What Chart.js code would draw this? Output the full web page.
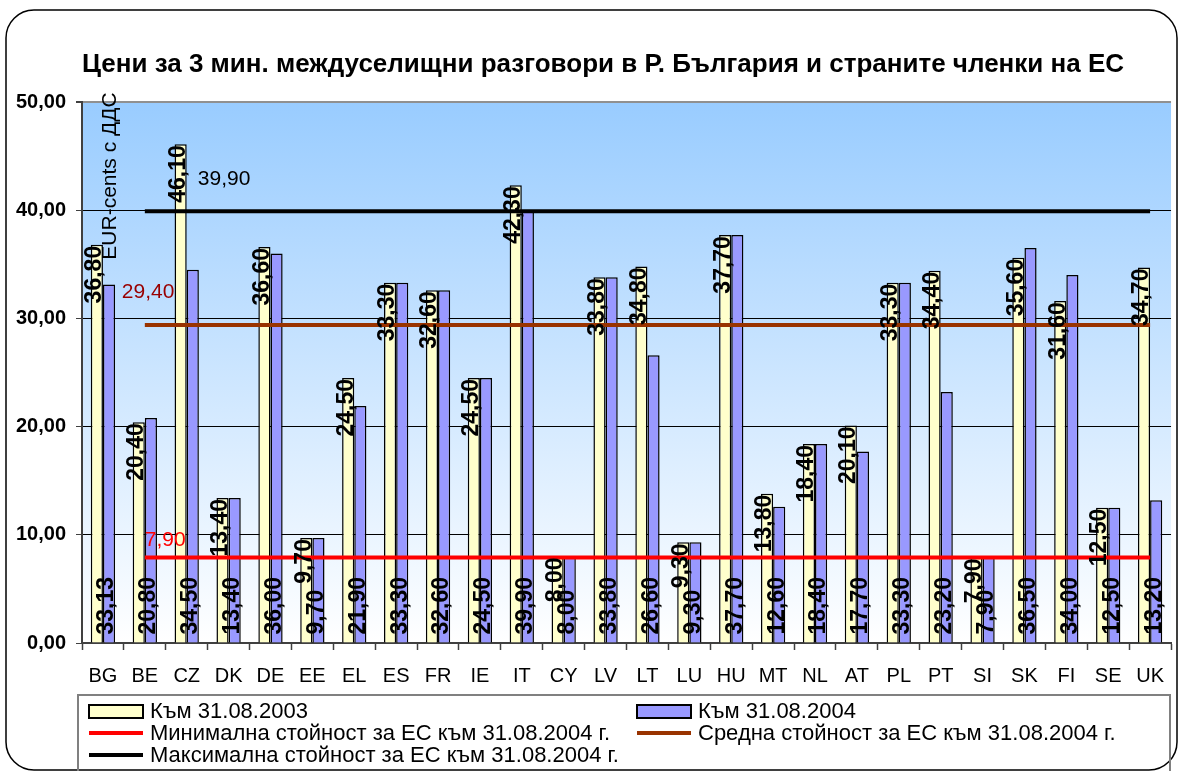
<html>
<head>
  <meta charset="utf-8">
  <style>
    body { margin: 0; background: #fff; overflow: hidden; }
    #wrap { position: relative; width: 1178px; height: 771px; }
  </style>
</head>
<body>
  <div id="wrap">
    <canvas id="priceChart" width="1178" height="771"></canvas>
  </div>

  <script src="https://cdn.jsdelivr.net/npm/chart.js"></script>
  <script>
    // данни от графиката
    const countries = ['BG', 'BE', 'CZ', 'DK', 'DE', 'EE', 'EL', 'ES', 'FR', 'IE', 'IT', 'CY', 'LV',
      'LT', 'LU', 'HU', 'MT', 'NL', 'AT', 'PL', 'PT', 'SI', 'SK', 'FI', 'SE', 'UK'];
    const prices2003 = [36.80, 20.40, 46.10, 13.40, 36.60, 9.70, 24.50, 33.30, 32.60, 24.50, 42.30, 8.00, 33.80,
      34.80, 9.30, 37.70, 13.80, 18.40, 20.10, 33.30, 34.40, 7.90, 35.60, 31.60, 12.50, 34.70];
    const prices2004 = [33.13, 20.80, 34.50, 13.40, 36.00, 9.70, 21.90, 33.30, 32.60, 24.50, 39.90, 8.00, 33.80,
      26.60, 9.30, 37.70, 12.60, 18.40, 17.70, 33.30, 23.20, 7.90, 36.50, 34.00, 12.50, 13.20];
    const minEU2004 = 7.90;
    const avgEU2004 = 29.40;
    const maxEU2004 = 39.90;
    const seriesNames = [
      'Към 31.08.2003',
      'Към 31.08.2004',
      'Минимална стойност за ЕС към 31.08.2004 г.',
      'Средна стойност за ЕС към 31.08.2004 г.',
      'Максимална стойност за ЕС към 31.08.2004 г.'
    ];
    const chartTitle = 'Цени за 3 мин. междуселищни разговори в Р. България и страните членки на ЕС';
    const yTitle = 'EUR-cents с ДДС';

    const fmt = v => v.toFixed(2).replace('.', ',');
    // линиите започват от втората държава (BE)
    const refLine = v => countries.map((c, i) => i === 0 ? null : v);

    const FONT = '"Liberation Sans", Arial, sans-serif';

    // рамка, заглавие и фон на областта с графиката
    const backgroundPlugin = {
      id: 'background',
      beforeDraw(chart) {
        const { ctx, chartArea: a } = chart;
        ctx.save();
        ctx.fillStyle = '#fff';
        ctx.fillRect(0, 0, chart.width, chart.height);
        ctx.beginPath();
        ctx.roundRect(6, 10, 1171, 760, 28);
        ctx.strokeStyle = '#000';
        ctx.lineWidth = 1.5;
        ctx.stroke();
        const g = ctx.createLinearGradient(0, a.top, 0, a.bottom);
        g.addColorStop(0, '#99ccff');
        g.addColorStop(1, '#ffffff');
        ctx.fillStyle = g;
        ctx.fillRect(a.left, a.top, a.right - a.left, a.bottom - a.top);
        ctx.font = 'bold 26px ' + FONT;
        ctx.fillStyle = '#000';
        ctx.textAlign = 'center';
        ctx.textBaseline = 'middle';
        ctx.fillText(chartTitle, 603, 65);
        ctx.restore();
      }
    };

    // вертикални надписи със стойностите
    const barLabelsPlugin = {
      id: 'barLabels',
      afterDatasetsDraw(chart) {
        const { ctx } = chart;
        ctx.save();
        ctx.font = 'bold 23px ' + FONT;
        ctx.fillStyle = '#000';
        ctx.textBaseline = 'middle';
        [0, 1].forEach(di => {
          const meta = chart.getDatasetMeta(di);
          const data = chart.data.datasets[di].data;
          meta.data.forEach((bar, i) => {
            ctx.save();
            if (di === 0) {
              ctx.translate(bar.x - 2, bar.y + 1);
              ctx.rotate(-Math.PI / 2);
              ctx.textAlign = 'right';
            } else {
              ctx.translate(bar.x - 2, bar.base - 8);
              ctx.rotate(-Math.PI / 2);
              ctx.textAlign = 'left';
            }
            ctx.fillText(fmt(data[i]), 0, 0);
            ctx.restore();
          });
        });
        ctx.restore();
      }
    };

    // надписи на хоризонталните линии
    const refLabelsPlugin = {
      id: 'refLabels',
      afterDatasetsDraw(chart) {
        const { ctx, scales: { x, y } } = chart;
        const x0 = x.getPixelForValue(1);
        ctx.save();
        ctx.font = '21px ' + FONT;
        ctx.textBaseline = 'middle';
        ctx.textAlign = 'left';
        ctx.fillStyle = '#000';
        ctx.fillText(fmt(maxEU2004), x0 + 53, y.getPixelForValue(maxEU2004) - 32);
        ctx.fillStyle = '#990000';
        ctx.fillText(fmt(avgEU2004), x0 - 23, y.getPixelForValue(avgEU2004) - 33);
        ctx.fillStyle = '#ff0000';
        ctx.fillText(fmt(minEU2004), x0, y.getPixelForValue(minEU2004) - 17);
        ctx.restore();
      }
    };

    // заглавие на оста и легенда
    const extrasPlugin = {
      id: 'extras',
      afterDraw(chart) {
        const { ctx, chartArea: a } = chart;
        ctx.save();
        ctx.font = '21px ' + FONT;
        ctx.fillStyle = '#000';
        ctx.textAlign = 'center';
        ctx.textBaseline = 'middle';
        ctx.translate(a.left + 28, a.top + 74);
        ctx.rotate(-Math.PI / 2);
        ctx.fillText(yTitle, 0, 0);
        ctx.restore();

        ctx.save();
        ctx.strokeStyle = '#808080';
        ctx.lineWidth = 2;
        ctx.strokeRect(78, 695, 1092, 100);
        const cols = [89, 637];
        const rows = [711, 733, 755];
        ctx.font = '22px ' + FONT;
        ctx.textBaseline = 'middle';
        ctx.textAlign = 'left';
        chart.data.datasets.forEach((ds, i) => {
          const cx = cols[i % 2];
          const cy = rows[Math.floor(i / 2)];
          if (ds.type === 'line') {
            ctx.strokeStyle = ds.borderColor;
            ctx.lineWidth = 4;
            ctx.beginPath();
            ctx.moveTo(cx, cy);
            ctx.lineTo(cx + 54, cy);
            ctx.stroke();
          } else {
            ctx.fillStyle = ds.backgroundColor;
            ctx.fillRect(cx, cy - 6, 54, 13);
            ctx.strokeStyle = '#000';
            ctx.lineWidth = 2;
            ctx.strokeRect(cx, cy - 6, 54, 13);
          }
          ctx.fillStyle = '#000';
          ctx.fillText(ds.label, cx + 61, cy + 1);
        });
        ctx.restore();
      }
    };

    const lineDs = (label, value, color) => ({
      type: 'line',
      label: label,
      data: refLine(value),
      borderColor: color,
      borderWidth: 4,
      pointRadius: 0,
      fill: false,
      order: 1
    });

    const ctx = document.getElementById('priceChart').getContext('2d');
    new Chart(ctx, {
      type: 'bar',
      data: {
        labels: countries,
        datasets: [
          {
            label: seriesNames[0],
            data: prices2003,
            backgroundColor: '#ffffcc',
            borderColor: '#000',
            borderWidth: 1.5,
            categoryPercentage: 0.58,
            barPercentage: 1,
            order: 2
          },
          {
            label: seriesNames[1],
            data: prices2004,
            backgroundColor: '#9999ff',
            borderColor: '#000',
            borderWidth: 1.5,
            categoryPercentage: 0.58,
            barPercentage: 1,
            order: 2
          },
          lineDs(seriesNames[2], minEU2004, '#ff0000'),
          lineDs(seriesNames[3], avgEU2004, '#993300'),
          lineDs(seriesNames[4], maxEU2004, '#000000')
        ]
      },
      options: {
        responsive: false,
        animation: false,
        layout: { padding: { left: 0, right: 1, top: 102, bottom: 88 } },
        plugins: {
          legend: { display: false },
          tooltip: { enabled: false },
          title: { display: false }
        },
        scales: {
          x: {
            afterFit: s => { s.height = 40; },
            grid: {
              offset: true,
              drawOnChartArea: false,
              tickLength: 7,
              tickColor: '#404040',
              tickWidth: 1.5
            },
            border: { color: '#404040', width: 2 },
            ticks: {
              color: '#000',
              padding: 14,
              font: { family: FONT, size: 20 },
              maxRotation: 0,
              autoSkip: false
            }
          },
          y: {
            min: 0,
            max: 50,
            afterFit: s => { s.width = 82; },
            grid: {
              color: c => c.tick && c.tick.value === 50 ? '#909090' : '#000',
              lineWidth: c => c.tick && c.tick.value === 50 ? 2 : 1,
              tickLength: 6,
              tickColor: '#404040'
            },
            border: { color: '#404040', width: 2 },
            ticks: {
              stepSize: 10,
              color: '#000',
              padding: 10,
              font: { family: FONT, size: 20, weight: 'bold' },
              callback: v => fmt(v)
            }
          }
        }
      },
      plugins: [backgroundPlugin, barLabelsPlugin, refLabelsPlugin, extrasPlugin]
    });
  </script>
</body>
</html>
